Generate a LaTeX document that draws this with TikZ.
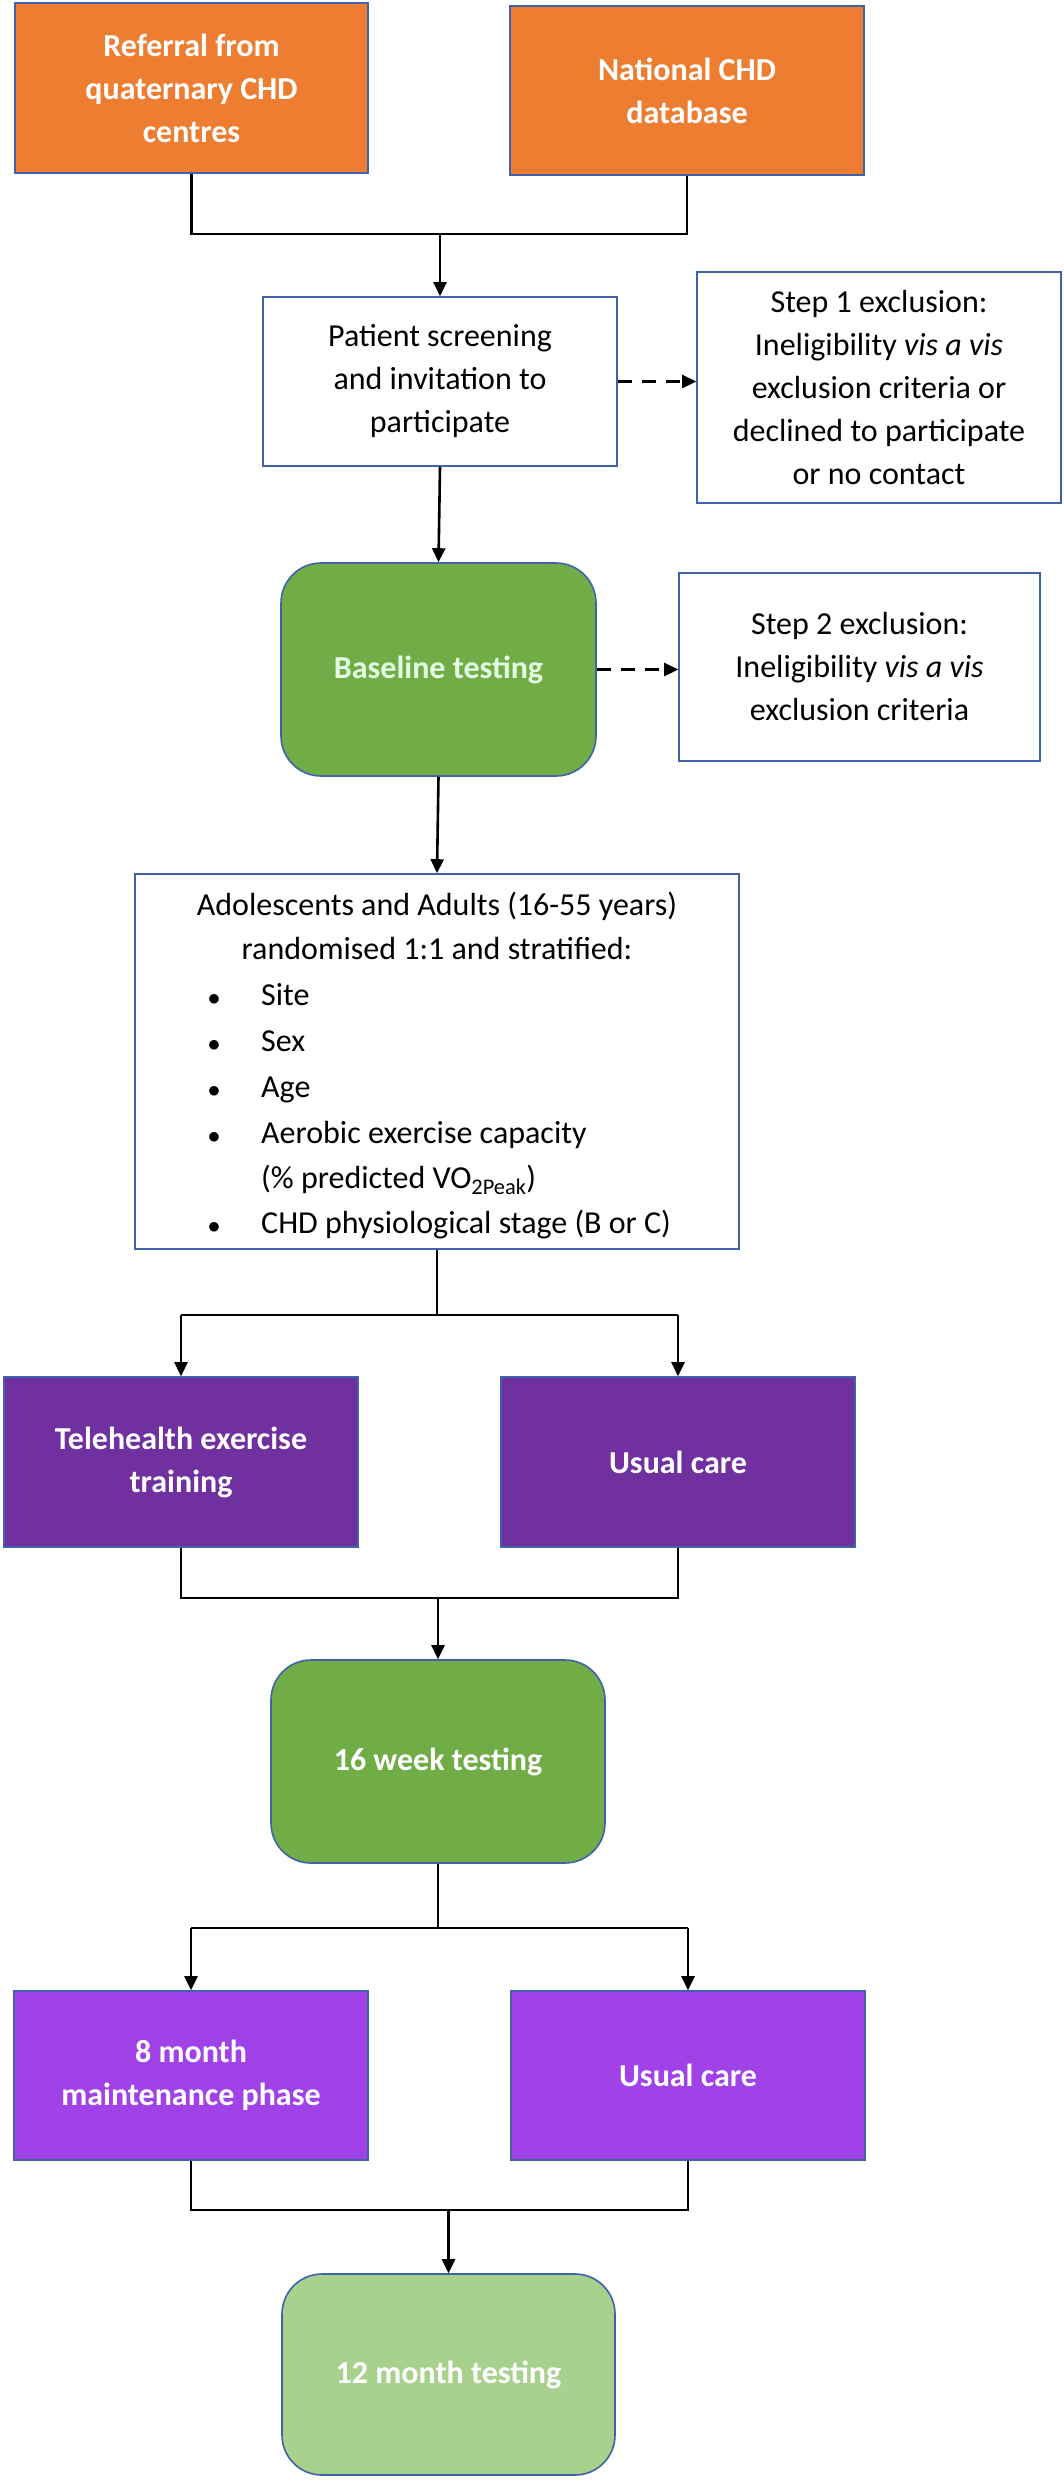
\documentclass[tikz,border=0pt]{standalone}
\usepackage{fontspec}
\setmainfont{Carlito}
\usetikzlibrary{arrows.meta}
\definecolor{bord}{HTML}{3F62A8}
\definecolor{orng}{HTML}{ED7D31}
\definecolor{grn}{HTML}{70AD47}
\definecolor{lgrn}{HTML}{A9D18E}
\definecolor{dpur}{HTML}{7030A0}
\definecolor{pur}{HTML}{A142E8}
\begin{document}
\begin{tikzpicture}[x=1pt,y=-1pt,
  box/.style={draw=bord,line width=1.6pt,inner sep=0pt,align=center,font=\fontsize{32}{43}\selectfont},
  fbox/.style={box,text=white,font=\fontsize{32}{43}\selectfont\bfseries},
  rbox/.style={fbox,rounded corners=40pt},
  ln/.style={line width=2.6pt},
  arr/.style={ln,-{Triangle[width=13pt,length=14pt]}},
  darr/.style={arr,dash pattern=on 14pt off 10pt},
  txt/.style={inner sep=0pt,anchor=base west,font=\fontsize{32}{43}\selectfont}]
\useasboundingbox[fill=white] (0,0) rectangle (1064,2480);
\node[fbox,fill=orng,minimum width=353pt,minimum height=170pt] (ref) at (191.5,88) {Referral from\\quaternary CHD\\centres};
\node[fbox,fill=orng,minimum width=354pt,minimum height=169pt] (nat) at (687,90.5) {National CHD\\database};
\node[box,fill=white,minimum width=354pt,minimum height=169pt] (scr) at (440,381.5) {Patient screening\\and invitation to\\participate};
\node[box,fill=white,minimum width=364pt,minimum height=231pt] (ex1) at (879,387.5) {Step 1 exclusion:\\Ineligibility \textit{vis a vis}\\exclusion criteria or\\declined to participate\\or no contact};
\node[rbox,fill=grn,text={green!10!white},minimum width=315pt,minimum height=213pt] (base) at (438.5,669.5) {Baseline testing};
\node[box,fill=white,minimum width=361pt,minimum height=188pt] (ex2) at (859.5,667) {Step 2 exclusion:\\Ineligibility \textit{vis a vis}\\exclusion criteria};
\node[box,fill=white,minimum width=604pt,minimum height=375pt] (lst) at (437,1061.5) {};
\node[inner sep=0pt,anchor=base,font=\fontsize{32}{43}\selectfont] (l1) at (437,915) {Adolescents and Adults (16-55 years)};
\node[inner sep=0pt,anchor=base,font=\fontsize{32}{43}\selectfont] (l2) at (437,959) {randomised 1:1 and stratified:};
\foreach \yy/\tt [count=\i] in {1005/Site,1051/Sex,1097/Age,1143/Aerobic exercise capacity,1233/CHD physiological stage (B or C)}{
  \node[txt] (b\i) at (261,\yy) {\tt};
  \node[inner sep=0pt,anchor=base,font=\fontsize{32}{43}\selectfont] (d\i) at (214,\yy) {$\bullet$};
}
\node[txt] (b6) at (261,1188) {(\% predicted VO\textsubscript{2Peak})};
\node[fbox,fill=dpur,minimum width=354pt,minimum height=170pt] (tel) at (181,1462) {Telehealth exercise\\training};
\node[fbox,fill=dpur,minimum width=354pt,minimum height=170pt] (uc1) at (678,1462) {Usual care};
\node[rbox,fill=grn,minimum width=334pt,minimum height=203pt] (w16) at (438,1761.5) {16 week testing};
\node[fbox,fill=pur,minimum width=354pt,minimum height=169pt] (m8) at (191,2075.5) {8 month\\maintenance phase};
\node[fbox,fill=pur,minimum width=354pt,minimum height=169pt] (uc2) at (688,2075.5) {Usual care};
\node[rbox,fill=lgrn,minimum width=333pt,minimum height=201pt] (m12) at (448.5,2374.5) {12 month testing};
% connectors
\coordinate (j1) at (440,234);
\draw[ln] (ref.south) -- (ref.south |- j1) -- (nat.south |- j1) -- (nat.south);
\draw[arr] (j1) -- (scr.north);
\draw[darr] (scr.east) -- (ex1.west |- scr.east);
\draw[arr] (scr.south) -- (base.north);
\draw[darr] (base.east) -- (ex2.west |- base.east);
\draw[arr] (base.south) -- (lst.north);
\coordinate (j2) at (437,1315);
\draw[ln] (lst.south) -- (j2);
\draw[arr] (tel.north |- j2) -- (tel.north);
\draw[arr] (uc1.north |- j2) -- (uc1.north);
\draw[ln] (tel.north |- j2) -- (uc1.north |- j2);
\coordinate (j3) at (438,1598);
\draw[ln] (tel.south) -- (tel.south |- j3) -- (uc1.south |- j3) -- (uc1.south);
\draw[arr] (j3) -- (w16.north);
\coordinate (j4) at (438,1928);
\draw[ln] (w16.south) -- (j4);
\draw[ln] (m8.north |- j4) -- (uc2.north |- j4);
\draw[arr] (m8.north |- j4) -- (m8.north);
\draw[arr] (uc2.north |- j4) -- (uc2.north);
\coordinate (j5) at (448.5,2210);
\draw[ln] (m8.south) -- (m8.south |- j5) -- (uc2.south |- j5) -- (uc2.south);
\draw[arr] (j5) -- (m12.north);
\end{tikzpicture}
\end{document}
